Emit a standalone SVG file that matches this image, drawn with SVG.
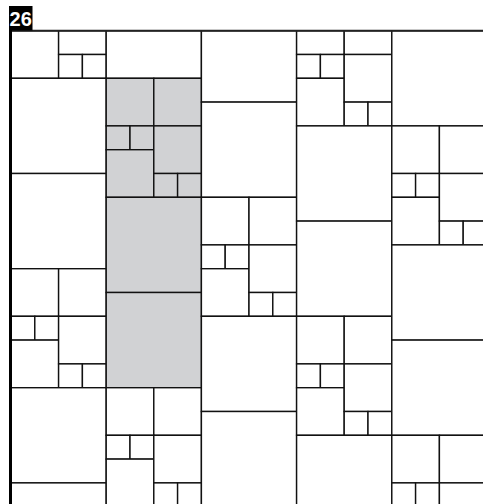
<svg xmlns="http://www.w3.org/2000/svg" width="483" height="504" viewBox="0 0 483 504">
<style>
.c{fill:#ffffff;stroke:#111111;stroke-width:1.4}
.g{fill:#d1d2d4;stroke:#111111;stroke-width:1.4}
.lbl{font-family:"Liberation Sans",Arial,sans-serif;font-weight:bold;font-size:20px;fill:#ffffff}
</style>
<rect x="0" y="0" width="483" height="504" fill="#ffffff"/>
<g id="grid" transform="translate(11,30.7)">
<g id="col1">
<rect class="c" x="0" y="0" width="47.6" height="47.6"/>
<rect class="c" x="47.6" y="0" width="47.6" height="23.8"/>
<rect class="c" x="47.6" y="23.8" width="23.8" height="23.8"/>
<rect class="c" x="71.4" y="23.8" width="23.8" height="23.8"/>
<rect class="c" x="0" y="47.6" width="95.2" height="95.2"/>
<rect class="c" x="0" y="142.8" width="95.2" height="95.2"/>
<rect class="c" x="0" y="238" width="47.6" height="47.6"/>
<rect class="c" x="47.6" y="238" width="47.6" height="47.6"/>
<rect class="c" x="0" y="285.6" width="23.8" height="23.8"/>
<rect class="c" x="23.8" y="285.6" width="23.8" height="23.8"/>
<rect class="c" x="0" y="309.4" width="47.6" height="47.6"/>
<rect class="c" x="47.6" y="285.6" width="47.6" height="47.6"/>
<rect class="c" x="47.6" y="333.2" width="23.8" height="23.8"/>
<rect class="c" x="71.4" y="333.2" width="23.8" height="23.8"/>
<rect class="c" x="0" y="357" width="95.2" height="95.2"/>
<rect class="c" x="0" y="452.2" width="95.2" height="95.2"/>
</g>
<g id="col2">
<rect class="c" x="95.2" y="0" width="95.2" height="47.6"/>
<rect class="g" x="95.2" y="47.6" width="47.6" height="47.6"/>
<rect class="g" x="142.8" y="47.6" width="47.6" height="47.6"/>
<rect class="g" x="95.2" y="95.2" width="23.8" height="23.8"/>
<rect class="g" x="119" y="95.2" width="23.8" height="23.8"/>
<rect class="g" x="95.2" y="119" width="47.6" height="47.6"/>
<rect class="g" x="142.8" y="95.2" width="47.6" height="47.6"/>
<rect class="g" x="142.8" y="142.8" width="23.8" height="23.8"/>
<rect class="g" x="166.6" y="142.8" width="23.8" height="23.8"/>
<rect class="g" x="95.2" y="166.6" width="95.2" height="95.2"/>
<rect class="g" x="95.2" y="261.8" width="95.2" height="95.2"/>
<rect class="c" x="95.2" y="357" width="47.6" height="47.6"/>
<rect class="c" x="142.8" y="357" width="47.6" height="47.6"/>
<rect class="c" x="95.2" y="404.6" width="23.8" height="23.8"/>
<rect class="c" x="119" y="404.6" width="23.8" height="23.8"/>
<rect class="c" x="95.2" y="428.4" width="47.6" height="47.6"/>
<rect class="c" x="142.8" y="404.6" width="47.6" height="47.6"/>
<rect class="c" x="142.8" y="452.2" width="23.8" height="23.8"/>
<rect class="c" x="166.6" y="452.2" width="23.8" height="23.8"/>
</g>
<g id="col3">
<rect class="c" x="190.4" y="0" width="95.2" height="71.4"/>
<rect class="c" x="190.4" y="71.4" width="95.2" height="95.2"/>
<rect class="c" x="190.4" y="166.6" width="47.6" height="47.6"/>
<rect class="c" x="238" y="166.6" width="47.6" height="47.6"/>
<rect class="c" x="190.4" y="214.2" width="23.8" height="23.8"/>
<rect class="c" x="214.2" y="214.2" width="23.8" height="23.8"/>
<rect class="c" x="190.4" y="238" width="47.6" height="47.6"/>
<rect class="c" x="238" y="214.2" width="47.6" height="47.6"/>
<rect class="c" x="238" y="261.8" width="23.8" height="23.8"/>
<rect class="c" x="261.8" y="261.8" width="23.8" height="23.8"/>
<rect class="c" x="190.4" y="285.6" width="95.2" height="95.2"/>
<rect class="c" x="190.4" y="380.8" width="95.2" height="95.2"/>
</g>
<g id="col4">
<rect class="c" x="285.6" y="0" width="47.6" height="23.8"/>
<rect class="c" x="333.2" y="0" width="47.6" height="23.8"/>
<rect class="c" x="285.6" y="23.8" width="23.8" height="23.8"/>
<rect class="c" x="309.4" y="23.8" width="23.8" height="23.8"/>
<rect class="c" x="285.6" y="47.6" width="47.6" height="47.6"/>
<rect class="c" x="333.2" y="23.8" width="47.6" height="47.6"/>
<rect class="c" x="333.2" y="71.4" width="23.8" height="23.8"/>
<rect class="c" x="357" y="71.4" width="23.8" height="23.8"/>
<rect class="c" x="285.6" y="95.2" width="95.2" height="95.2"/>
<rect class="c" x="285.6" y="190.4" width="95.2" height="95.2"/>
<rect class="c" x="285.6" y="285.6" width="47.6" height="47.6"/>
<rect class="c" x="333.2" y="285.6" width="47.6" height="47.6"/>
<rect class="c" x="285.6" y="333.2" width="23.8" height="23.8"/>
<rect class="c" x="309.4" y="333.2" width="23.8" height="23.8"/>
<rect class="c" x="285.6" y="357" width="47.6" height="47.6"/>
<rect class="c" x="333.2" y="333.2" width="47.6" height="47.6"/>
<rect class="c" x="333.2" y="380.8" width="23.8" height="23.8"/>
<rect class="c" x="357" y="380.8" width="23.8" height="23.8"/>
<rect class="c" x="285.6" y="404.6" width="95.2" height="95.2"/>
</g>
<g id="col5">
<rect class="c" x="380.8" y="0" width="95.2" height="95.2"/>
<rect class="c" x="380.8" y="95.2" width="47.6" height="47.6"/>
<rect class="c" x="428.4" y="95.2" width="47.6" height="47.6"/>
<rect class="c" x="380.8" y="142.8" width="23.8" height="23.8"/>
<rect class="c" x="404.6" y="142.8" width="23.8" height="23.8"/>
<rect class="c" x="380.8" y="166.6" width="47.6" height="47.6"/>
<rect class="c" x="428.4" y="142.8" width="47.6" height="47.6"/>
<rect class="c" x="428.4" y="190.4" width="23.8" height="23.8"/>
<rect class="c" x="452.2" y="190.4" width="23.8" height="23.8"/>
<rect class="c" x="380.8" y="214.2" width="95.2" height="95.2"/>
<rect class="c" x="380.8" y="309.4" width="95.2" height="95.2"/>
<rect class="c" x="380.8" y="404.6" width="47.6" height="47.6"/>
<rect class="c" x="428.4" y="404.6" width="47.6" height="47.6"/>
<rect class="c" x="380.8" y="452.2" width="23.8" height="23.8"/>
<rect class="c" x="404.6" y="452.2" width="23.8" height="23.8"/>
<rect class="c" x="428.4" y="452.2" width="47.6" height="47.6"/>
</g>
</g>
<g id="frame">
<line x1="9" y1="30.7" x2="483" y2="30.7" stroke="#222222" stroke-width="2"/>
<line x1="10.5" y1="30" x2="10.5" y2="504" stroke="#000000" stroke-width="3"/>
</g>
<g id="label">
<rect x="9" y="6" width="23.5" height="24.5" fill="#000000"/>
<text class="lbl" x="9.6" y="26.3">26</text>
</g>
</svg>
